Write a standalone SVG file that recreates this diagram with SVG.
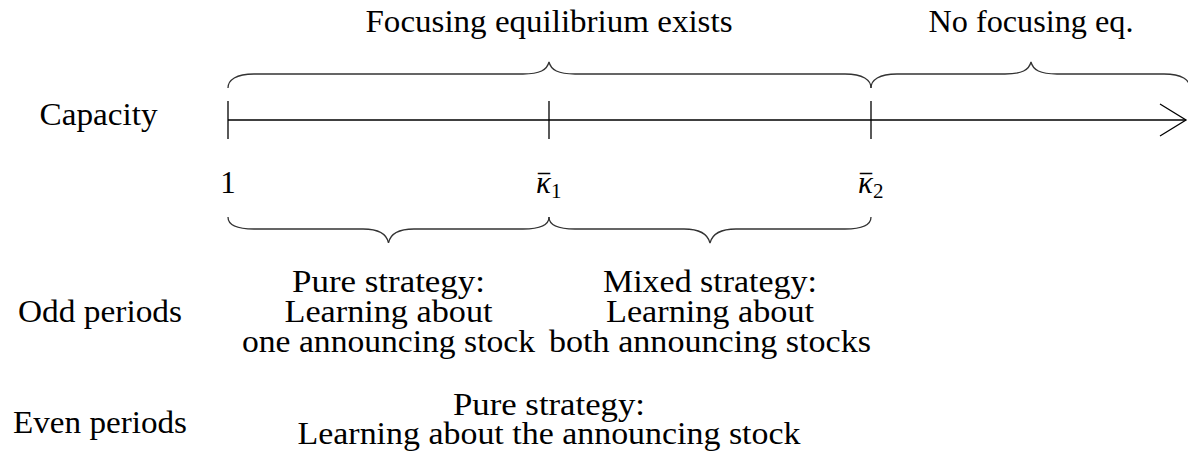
<svg xmlns="http://www.w3.org/2000/svg" width="1188" height="455" viewBox="0 0 1188 455">
<style>
text{font-family:"Liberation Serif","DejaVu Serif",serif;font-size:31px;fill:#000;text-anchor:middle}
.ln{fill:none;stroke:#000;stroke-width:1.3}
.br{fill:none;stroke:#333;stroke-width:1.3}
.math{font-style:italic;text-anchor:start}
.bar{font-size:31px}
</style>
<rect width="1188" height="455" fill="#fff"/>
<g id="connectors">
  <g id="axis">
    <line class="ln" x1="228" y1="120" x2="1186" y2="120"/>
    <polyline class="ln" points="1160,104 1186,120 1160,136"/>
    <line class="ln" x1="228" y1="101" x2="228" y2="139"/>
    <line class="ln" x1="549" y1="101" x2="549" y2="139"/>
    <line class="ln" x1="871" y1="101" x2="871" y2="139"/>
  </g>
  <g id="top-braces">
    <path class="br" d="M228,88 C228,80 236,74 254,74 L523,74 C540,74 547,70 549,62 C551,70 558,74 575,74 L845,74 C863,74 871,80 871,88"/>
    <path class="br" d="M871,88 C871,80 879,74 897,74 L1005,74 C1022,74 1029,70 1031,62 C1033,70 1040,74 1057,74 L1164,74 C1182,74 1190,80 1190,88"/>
  </g>
  <g id="bottom-braces">
    <path class="br" d="M228,217 C228,225 236,229 254,229 L363,229 C380,229 387,235 388.5,243 C390,235 397,229 414,229 L523,229 C541,229 549,225 549,217"/>
    <path class="br" d="M549,217 C549,225 557,229 575,229 L684,229 C701,229 708,235 710,243 C712,235 719,229 736,229 L845,229 C863,229 871,225 871,217"/>
  </g>
</g>
<g id="title-focusing"><text x="549" y="32" textLength="367" lengthAdjust="spacingAndGlyphs">Focusing equilibrium exists</text></g>
<g id="title-nofocusing"><text x="1031" y="32" textLength="205" lengthAdjust="spacingAndGlyphs">No focusing eq.</text></g>
<g id="label-capacity"><text x="98.5" y="125" textLength="118" lengthAdjust="spacingAndGlyphs">Capacity</text></g>
<g id="tick-1"><text x="228" y="193">1</text></g>
<g id="tick-k1">
  <text class="math" x="536" y="193">κ<tspan font-style="normal" font-size="21" dy="5">1</tspan></text>
  <text class="bar" x="544" y="197" textLength="12" lengthAdjust="spacingAndGlyphs">¯</text>
</g>
<g id="tick-k2">
  <text class="math" x="858" y="193">κ<tspan font-style="normal" font-size="21" dy="5">2</tspan></text>
  <text class="bar" x="866" y="197" textLength="12" lengthAdjust="spacingAndGlyphs">¯</text>
</g>
<g id="label-odd"><text x="100" y="322" textLength="164" lengthAdjust="spacingAndGlyphs">Odd periods</text></g>
<g id="label-even"><text x="100" y="433" textLength="174" lengthAdjust="spacingAndGlyphs">Even periods</text></g>
<g id="odd-pure">
  <text x="388.5" y="292" textLength="193" lengthAdjust="spacingAndGlyphs">Pure strategy:</text>
  <text x="388.5" y="322" textLength="208" lengthAdjust="spacingAndGlyphs">Learning about</text>
  <text x="388.5" y="352" textLength="293" lengthAdjust="spacingAndGlyphs">one announcing stock</text>
</g>
<g id="odd-mixed">
  <text x="710" y="292" textLength="214" lengthAdjust="spacingAndGlyphs">Mixed strategy:</text>
  <text x="710" y="322" textLength="208" lengthAdjust="spacingAndGlyphs">Learning about</text>
  <text x="710" y="352" textLength="322" lengthAdjust="spacingAndGlyphs">both announcing stocks</text>
</g>
<g id="even-pure">
  <text x="549" y="415" textLength="192" lengthAdjust="spacingAndGlyphs">Pure strategy:</text>
  <text x="549" y="444" textLength="503" lengthAdjust="spacingAndGlyphs">Learning about the announcing stock</text>
</g>
</svg>
